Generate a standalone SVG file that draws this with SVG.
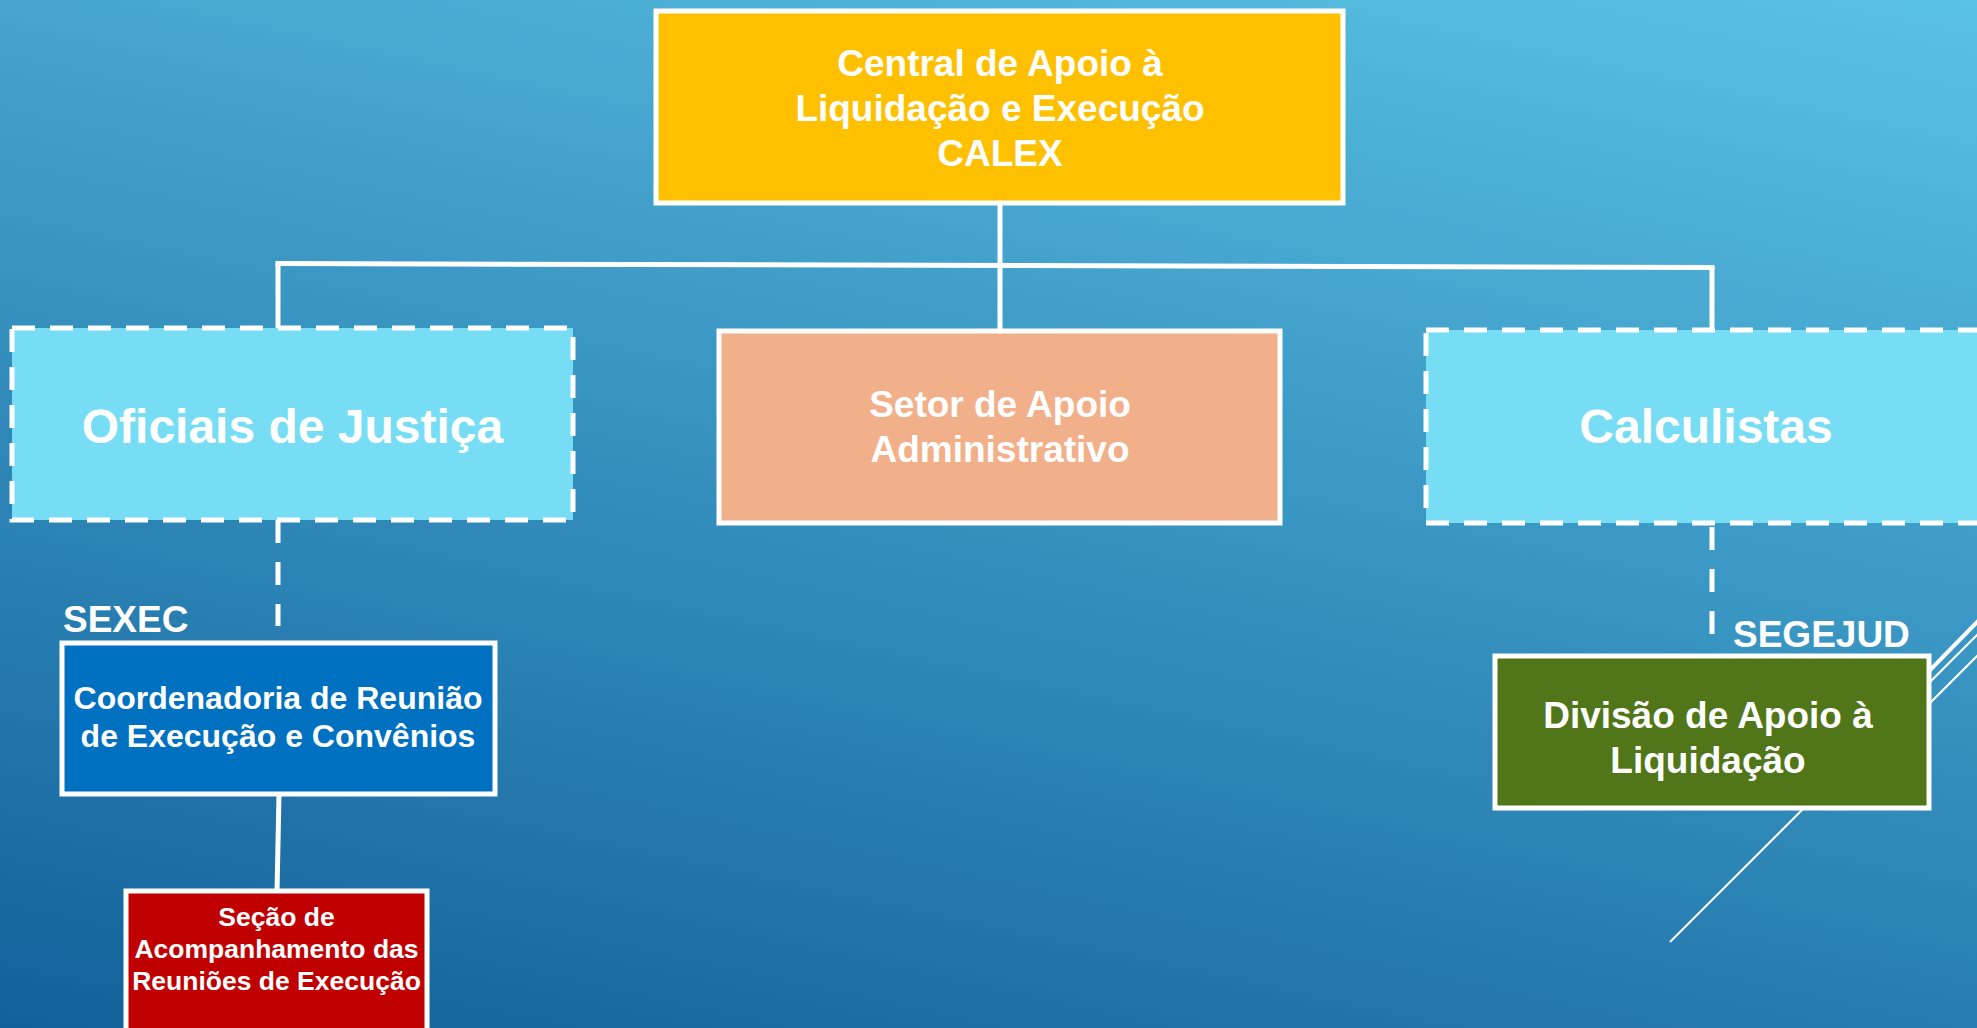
<svg xmlns="http://www.w3.org/2000/svg" width="1977" height="1028" viewBox="0 0 1977 1028">
<defs>
<linearGradient id="bg" gradientUnits="userSpaceOnUse" x1="1977" y1="0" x2="1676" y2="1391">
<stop offset="0" stop-color="#5AC2E4"/>
<stop offset="1" stop-color="#12609A"/>
</linearGradient>
<style>
.box{stroke:#FFFFFF;stroke-width:5}
.dash{stroke:#FFFFFF;stroke-width:5;stroke-dasharray:23 15}
.t{font-family:"Liberation Sans",Arial,sans-serif;font-weight:bold;fill:#FFFFFF;text-anchor:middle}
.lbl{font-family:"Liberation Sans",Arial,sans-serif;font-weight:bold;fill:#FFFFFF;font-size:37px}
.ln{stroke:#FFFFFF;stroke-width:5;fill:none}
.dl{stroke:#FFFFFF;stroke-width:5;fill:none;stroke-dasharray:23 19}
.deco{stroke:#FFFFFF;fill:none}
</style>
</defs>
<rect x="0" y="0" width="1977" height="1028" fill="url(#bg)"/>
<g id="decoration">
<line class="deco" x1="1670" y1="942" x2="1980" y2="632" stroke-width="2"/>
<line class="deco" x1="1890" y1="743" x2="1980" y2="653" stroke-width="2"/>
<line class="deco" x1="1890" y1="711" x2="1980" y2="619" stroke-width="4"/>
</g>
<g id="connectors">
<line class="ln" x1="1000" y1="203" x2="1000" y2="331"/>
<line class="ln" x1="275.5" y1="263.5" x2="1714.5" y2="267.5"/>
<line class="ln" x1="278" y1="263" x2="278" y2="328"/>
<line class="ln" x1="1712" y1="267" x2="1712" y2="330"/>
<line class="dl" x1="278" y1="520" x2="278" y2="626"/>
<line class="dl" x1="1712" y1="527" x2="1712" y2="636"/>
<line class="ln" x1="279" y1="794" x2="277" y2="892"/>
</g>
<g id="calex">
<rect class="box" x="656" y="11" width="687" height="192" fill="#FFC000"/>
<text class="t" font-size="37" x="1000" y="76">Central de Apoio à</text>
<text class="t" font-size="37" x="1000" y="121">Liquidação e Execução</text>
<text class="t" font-size="37" x="1000" y="166">CALEX</text>
</g>
<g id="oficiais">
<rect class="dash" x="12" y="328" width="561" height="192" fill="#76DDF5"/>
<text class="t" font-size="48" x="292.5" y="443">Oficiais de Justiça</text>
</g>
<g id="setor">
<rect class="box" x="719" y="331" width="561" height="192" fill="#F1B08A"/>
<text class="t" font-size="37" x="1000" y="417">Setor de Apoio</text>
<text class="t" font-size="37" x="1000" y="462">Administrativo</text>
</g>
<g id="calculistas">
<rect class="dash" x="1426" y="330" width="561" height="193" fill="#76DDF5"/>
<text class="t" font-size="48" x="1706" y="443">Calculistas</text>
</g>
<g id="sexec-label">
<text class="lbl" x="63" y="632">SEXEC</text>
</g>
<g id="coordenadoria">
<rect class="box" x="62" y="643" width="433" height="151" fill="#0070C0" stroke-width="4.5"/>
<text class="t" font-size="32" x="278" y="709">Coordenadoria de Reunião</text>
<text class="t" font-size="32" x="278" y="747">de Execução e Convênios</text>
</g>
<g id="secao">
<rect class="box" x="126" y="891" width="301" height="160" fill="#C00000" stroke-width="4"/>
<text class="t" font-size="26.5" x="276.5" y="926">Seção de</text>
<text class="t" font-size="26.5" x="276.5" y="958">Acompanhamento das</text>
<text class="t" font-size="26.5" x="276.5" y="990">Reuniões de Execução</text>
</g>
<g id="segejud-label">
<text class="lbl" x="1733" y="647">SEGEJUD</text>
</g>
<g id="divisao">
<rect class="box" x="1495" y="656" width="434" height="152" fill="#51761A"/>
<text class="t" font-size="37" x="1708" y="728">Divisão de Apoio à</text>
<text class="t" font-size="37" x="1708" y="773">Liquidação</text>
</g>
</svg>
